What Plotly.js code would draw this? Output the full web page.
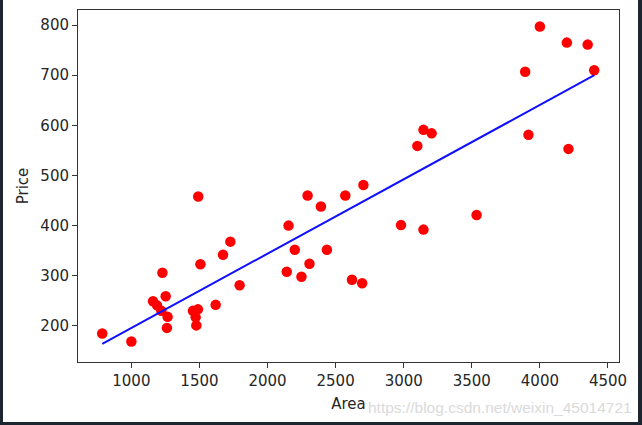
<!DOCTYPE html>
<html>
<head>
<meta charset="utf-8">
<script src="https://cdn.plot.ly/plotly-3.0.1.min.js"></script>
<style>
  html, body { margin: 0; padding: 0; background: #1c2530; width: 642px; height: 425px; overflow: hidden; }
  #chart { position: absolute; left: 3px; top: 0px; width: 635px; height: 422px; background: #ffffff; }
</style>
</head>
<body>
<div id="chart"></div>
<script>
// Scatter data
const area = [786, 1000, 1159, 1188, 1228, 1252, 1220, 1266, 1261, 1452, 1489, 1472, 1477,
  1507, 1491, 1619, 1673, 1727, 1795, 2141, 2154, 2200, 2249, 2308, 2294, 2392, 2436, 2571,
  2620, 2695, 2704, 2980, 3145, 3535, 3100, 3145, 3205, 3892, 3916, 4000, 4198, 4210, 4351, 4399];
const price = [185, 169, 249, 241, 306, 259, 230, 218, 196, 230, 233, 217, 201,
  323, 458, 242, 342, 368, 281, 308, 400, 352, 298, 324, 460, 438, 352, 460,
  292, 285, 481, 401, 392, 421, 559, 591, 584, 707, 581, 797, 765, 553, 761, 710];

// Fitted line end points
const lineArea = [786, 4400];
const linePrice = [164, 700];

const xTicks = [1000, 1500, 2000, 2500, 3000, 3500, 4000, 4500];
const yTicks = [200, 300, 400, 500, 600, 700, 800];

const tickFont = { family: 'DejaVu Sans', size: 15, color: '#262626' };

const traces = [
  {
    x: area, y: price, type: 'scatter', mode: 'markers',
    marker: { color: '#ff0000', size: 10.5, line: { width: 0 } },
    hoverinfo: 'skip'
  },
  {
    x: lineArea, y: linePrice, type: 'scatter', mode: 'lines',
    line: { color: '#1010ff', width: 2 },
    hoverinfo: 'skip'
  }
];

const layout = {
  width: 635, height: 422,
  margin: { l: 75.3, r: 18.7, t: 10, b: 60 },
  paper_bgcolor: '#ffffff', plot_bgcolor: '#ffffff',
  showlegend: false,
  xaxis: {
    range: [608, 4581],
    tickvals: xTicks, ticktext: xTicks.map(String),
    showgrid: false, zeroline: false,
    showline: true, mirror: true, linecolor: '#333333', linewidth: 1,
    ticks: 'outside', ticklen: 5, tickcolor: '#333333', tickwidth: 1,
    tickfont: tickFont,
    title: { text: 'Area', font: { family: 'DejaVu Sans', size: 15, color: '#262626' }, standoff: 9 }
  },
  yaxis: {
    range: [128, 830],
    tickvals: yTicks, ticktext: yTicks.map(String),
    showgrid: false, zeroline: false,
    showline: true, mirror: true, linecolor: '#333333', linewidth: 1,
    ticks: 'outside', ticklen: 5, tickcolor: '#333333', tickwidth: 1,
    tickfont: tickFont,
    title: { text: 'Price', font: { family: 'DejaVu Sans', size: 15, color: '#262626' }, standoff: 8 }
  },
  annotations: [
    {
      text: 'https://blog.csdn.net/weixin_45014721',
      xref: 'paper', yref: 'paper', x: 0.5318, y: -0.128,
      xanchor: 'left', yanchor: 'middle', showarrow: false,
      font: { family: 'Liberation Sans', size: 15.5, color: '#dadada' }
    }
  ]
};

Plotly.newPlot('chart', traces, layout, { staticPlot: true, displayModeBar: false });
</script>
</body>
</html>
